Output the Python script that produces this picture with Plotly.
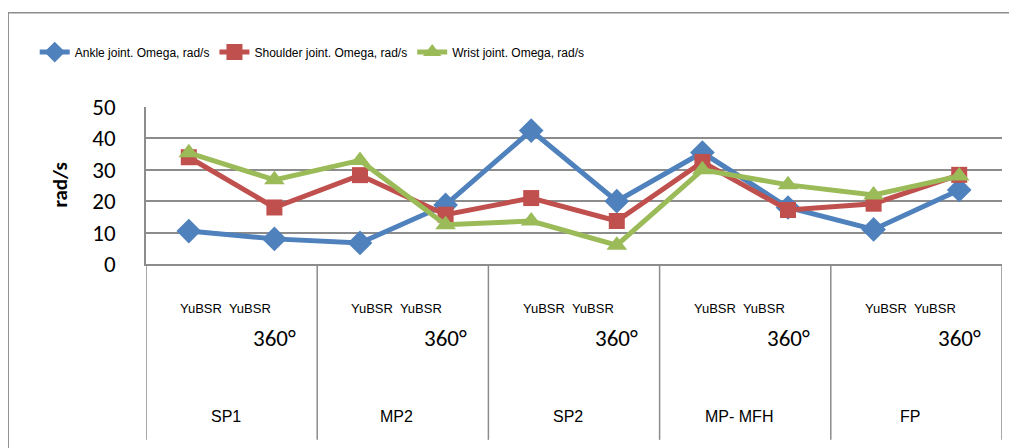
import plotly.graph_objects as go

# Categories (two-level axis)
groups = ['SP1', 'MP2', 'SP2', 'MP- MFH', 'FP']
sub_top = 'YuBSR  YuBSR'
sub_bottom = '360°'

# Series values, rad/s
ankle = [10.5, 8, 6.7, 18.8, 42.5, 20, 35.5, 18, 11, 23.6]
shoulder = [34, 18, 28.3, 15.7, 21, 13.7, 32.5, 17.2, 19.2, 28.4]
wrist = [35.4, 26.8, 33, 12.5, 13.7, 6, 30, 25.2, 22, 28]

x = list(range(len(ankle)))

series = [
    ('Ankle joint. Omega, rad/s', ankle, '#4F81BD', 'diamond', 19),
    ('Shoulder joint. Omega, rad/s', shoulder, '#C0504D', 'square', 16),
    ('Wrist joint. Omega, rad/s', wrist, '#9BBB59', 'triangle-up', 18),
]

fig = go.Figure()
for name, vals, color, symbol, size in series:
    fig.add_trace(go.Scatter(x=x, y=vals, name=name, mode='lines+markers',
                             line=dict(color=color, width=5),
                             marker=dict(symbol=symbol, size=size, color=color)))

grey = '#8c8c8c'
text_font = 'Liberation Sans, Arial'
num_font = 'Carlito, Calibri, Open Sans, Noto Sans'

# Category separators below the axis
shapes = []
for i in range(len(groups) + 1):
    shapes.append(dict(type='line', xref='x', yref='paper', x0=2 * i - 0.5, x1=2 * i - 0.5,
                       y0=0, y1=-1.12, line=dict(color=grey, width=1.5)))
# Outer chart border
shapes.append(dict(type='rect', xref='paper', yref='paper', x0=-0.161, x1=1.06,
                   y0=-1.3, y1=1.6, line=dict(color=grey, width=1.5)))

annotations = []
for i, g in enumerate(groups):
    annotations.append(dict(x=2 * i + 0.5, y=0, xref='x', yref='paper', text=sub_top,
                            showarrow=False, xshift=-6, yshift=-44, yanchor='middle',
                            font=dict(family=text_font, size=13, color='#000')))
    annotations.append(dict(x=2 * i + 1, y=0, xref='x', yref='paper', text=sub_bottom,
                            showarrow=False, yshift=-74, yanchor='middle',
                            font=dict(family=num_font, size=23, color='#000')))
    annotations.append(dict(x=2 * i + 0.5, y=0, xref='x', yref='paper', text=g,
                            showarrow=False, xshift=-6, yshift=-152, yanchor='middle',
                            font=dict(family=text_font, size=16, color='#000')))
annotations.append(dict(x=-0.1016, y=0.5, xref='paper', yref='paper', text='<b>rad/s</b>',
                        textangle=-90, showarrow=False, xanchor='center', yanchor='middle',
                        font=dict(family=num_font, size=21, color='#000')))

# page body has an 8px margin, so the figure is sized/offset to compensate
fig.update_layout(
    width=1009, height=440,
    margin=dict(l=138, r=15, t=99, b=184, autoexpand=False),
    paper_bgcolor='white', plot_bgcolor='white',
    showlegend=True,
    legend=dict(orientation='h', x=-0.13, y=1.35, xanchor='left', yanchor='middle',
                font=dict(family=text_font, size=12, color='#000'),
                itemwidth=30, tracegroupgap=0),
    xaxis=dict(range=[-0.5, 9.5], showticklabels=False, showgrid=False, zeroline=False,
               showline=True, linecolor=grey, linewidth=1.5),
    yaxis=dict(range=[0, 50], dtick=10, showgrid=True, gridcolor=grey, gridwidth=1.5,
               zeroline=False, showline=True, linecolor=grey, linewidth=1.5,
               ticklabelstandoff=24,
               tickfont=dict(family=num_font, size=23, color='#000')),
    shapes=shapes,
    annotations=annotations,
)

fig.write_html('out.html')
